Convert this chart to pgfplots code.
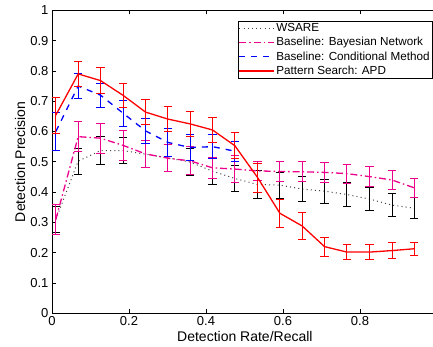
\documentclass[border=0pt]{standalone}
\usepackage{fontspec}
\setmainfont{Liberation Sans}
\usepackage{pgfplots}
\usepackage{pgfplotstable}
\pgfplotsset{compat=1.18}

\pgfplotstableread{
x y e
0.010 0.310 0.043
0.068 0.502 0.043
0.126 0.537 0.045
0.185 0.537 0.042
0.243 0.525 0.044
0.301 0.513 0.045
0.359 0.499 0.045
0.417 0.469 0.043
0.475 0.445 0.044
0.534 0.425 0.045
0.592 0.423 0.043
0.650 0.410 0.042
0.708 0.403 0.040
0.766 0.392 0.040
0.825 0.377 0.039
0.883 0.357 0.039
0.941 0.347 0.035
}\wsare

\pgfplotstableread{
x y e
0.010 0.310 0.050
0.068 0.583 0.050
0.126 0.578 0.050
0.185 0.554 0.048
0.243 0.526 0.046
0.301 0.512 0.044
0.359 0.503 0.046
0.417 0.480 0.035
0.475 0.476 0.045
0.534 0.470 0.032
0.592 0.468 0.033
0.650 0.467 0.033
0.708 0.465 0.032
0.766 0.461 0.031
0.825 0.451 0.034
0.883 0.440 0.032
0.941 0.414 0.032
}\bayes

\pgfplotstableread{
x y e
0.010 0.600 0.063
0.068 0.750 0.042
0.126 0.720 0.040
0.185 0.660 0.043
0.243 0.602 0.041
0.301 0.564 0.047
0.359 0.547 0.043
0.417 0.550 0.040
0.475 0.535 0.033
}\cond

\pgfplotstableread{
x y e
0.010 0.654 0.060
0.068 0.790 0.042
0.126 0.768 0.043
0.185 0.719 0.041
0.243 0.664 0.041
0.301 0.641 0.042
0.359 0.625 0.040
0.417 0.605 0.042
0.475 0.553 0.043
0.534 0.448 0.048
0.592 0.330 0.047
0.650 0.288 0.044
0.708 0.220 0.031
0.766 0.202 0.025
0.825 0.202 0.025
0.883 0.207 0.026
0.941 0.213 0.022
}\apd

\begin{document}
\begin{tikzpicture}
\begin{axis}[
  scale only axis,
  width=385pt, height=303pt,
  xmin=0, xmax=1, ymin=0, ymax=1,
  xtick={0,0.2,0.4,0.6,0.8},
  ytick={0,0.1,0.2,0.3,0.4,0.5,0.6,0.7,0.8,0.9,1},
  tick align=inside,
  major tick length=4pt,
  axis line style={line width=0.8pt},
  every tick/.style={black, line width=0.6pt},
  /pgf/number format/assume math mode=true,
  tick label style={font=\fontsize{13}{15}\selectfont},
  xlabel={Detection Rate/Recall},
  ylabel={Detection Precision},
  label style={font=\fontsize{14}{16}\selectfont},
  xlabel style={at={(axis description cs:0.501,-0.078)}, anchor=center},
  ylabel style={at={(axis description cs:-0.083,0.5)}, anchor=center},
  legend style={at={(1,1)}, anchor=north east, xshift=-5pt, yshift=-10.5pt,
    font=\fontsize{11.7}{13}\selectfont,
    inner sep=1pt, row sep=2pt,
    nodes={inner sep=1.2pt}},
  legend cell align=left,
  legend image code/.code={\draw[#1] (0pt,0pt) -- (35pt,0pt);},
  error bars/y dir=both,
  error bars/y explicit,
]
\addlegendimage{draw=black!75, line width=1pt, dash pattern=on 1pt off 3.2pt}
\addlegendentry{WSARE}
\addlegendimage{draw=magenta, line width=1.3pt, dash pattern=on 7pt off 3pt on 1.5pt off 3pt}
\addlegendentry{Baseline: Bayesian Network}
\addlegendimage{draw=blue, line width=1.3pt, dash pattern=on 6pt off 6pt}
\addlegendentry{Baseline: Conditional Method}
\addlegendimage{draw=red, line width=1.3pt}
\addlegendentry{Pattern Search: APD}
\addplot[forget plot, black!75, line width=1pt, dash pattern=on 1pt off 3.2pt,
  error bars/error bar style={black, solid, line width=0.9pt},
  error bars/error mark options={black, solid, rotate=90, mark size=4.2pt, line width=0.9pt}]
  table[x=x, y=y, y error=e] {\wsare};
\addplot[forget plot, magenta, line width=1.3pt, dash pattern=on 7pt off 3pt on 1.5pt off 3pt,
  error bars/error bar style={solid, line width=0.9pt},
  error bars/error mark options={solid, rotate=90, mark size=4.2pt, line width=0.9pt}]
  table[x=x, y=y, y error=e] {\bayes};
\addplot[forget plot, blue, line width=1.3pt, dash pattern=on 6pt off 6pt,
  error bars/error bar style={solid, line width=0.9pt},
  error bars/error mark options={solid, rotate=90, mark size=4.2pt, line width=0.9pt}]
  table[x=x, y=y, y error=e] {\cond};
\addplot[forget plot, red, line width=1.3pt, solid,
  error bars/error bar style={solid, line width=0.9pt},
  error bars/error mark options={solid, rotate=90, mark size=4.2pt, line width=0.9pt}]
  table[x=x, y=y, y error=e] {\apd};
\end{axis}
\pgfresetboundingbox
\path[use as bounding box] (-52pt,-33.7pt) rectangle (381pt,313.3pt);
\end{tikzpicture}
\end{document}
